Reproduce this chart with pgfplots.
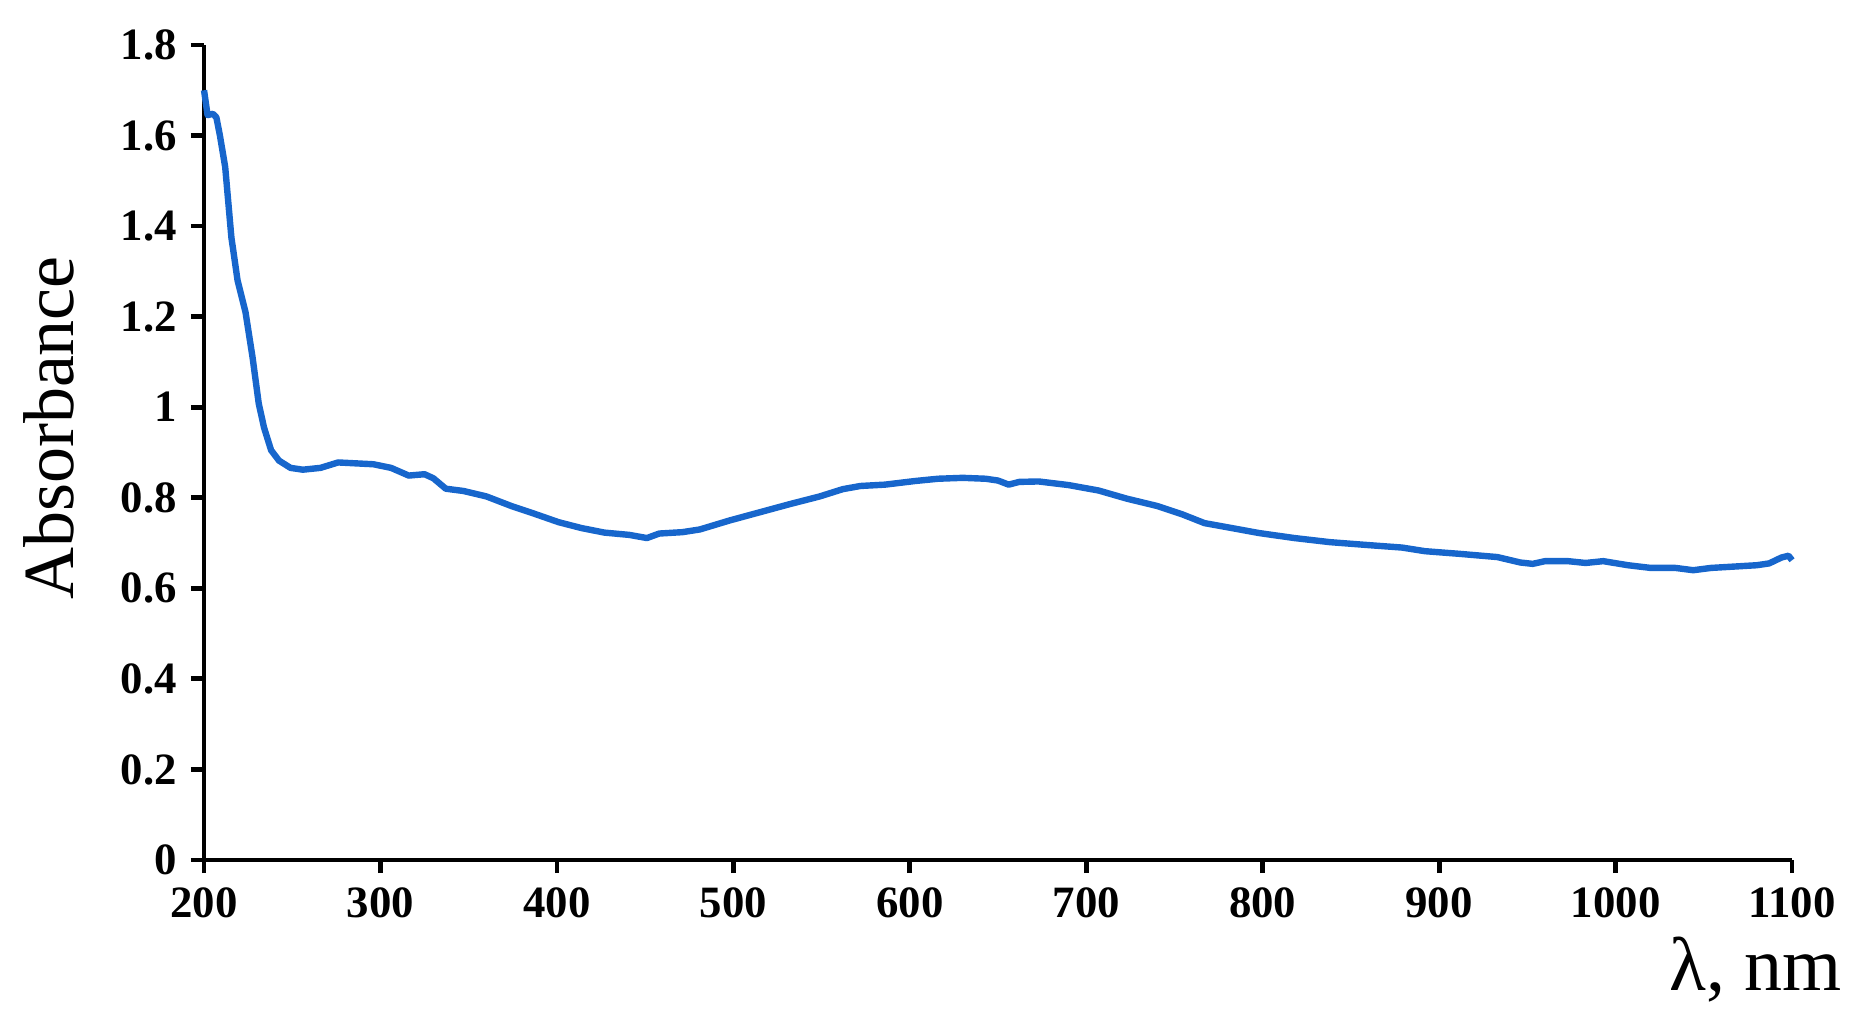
\documentclass[border=0pt]{standalone}
\usepackage{fontspec}
\setmainfont{Liberation Serif}
\usepackage{pgfplots}
\pgfplotsset{compat=1.18}
\definecolor{curve}{RGB}{23,102,204}
\begin{document}
\begin{tikzpicture}
\begin{axis}[
  scale only axis,
  width=397pt, height=203.75pt,
  xmin=200, xmax=1100, ymin=0, ymax=1.8,
  axis lines*=left,
  axis line style={line width=1.2pt},
  tick style={line width=1.2pt, black},
  major tick length=3.3pt,
  tick align=outside,
  xtick={200,300,...,1100},
  ytick={0,0.2,...,1.8},
  /pgf/number format/assume math mode=true,
  /pgf/number format/1000 sep={},
  ticklabel style={font=\fontsize{11.2}{13}\selectfont\bfseries},
  yticklabel style={/pgf/number format/fixed},
  ylabel={Absorbance},
  ylabel style={font=\fontsize{18}{20}\selectfont, at={(axis description cs:-0.098,0.53)}, anchor=center},
  xlabel={λ, nm},
  xlabel style={font=\fontsize{19}{21}\selectfont, at={(axis description cs:1.04,-0.135)}, anchor=east},
  clip=false,
]
\addplot[curve, line width=1.6pt, line join=round] coordinates {
(200,1.70) (202,1.645) (205,1.648) (207,1.64) (209,1.60) (212,1.53)
(215.5,1.375) (219,1.28) (223.5,1.21) (227.5,1.11) (231,1.008) (234,0.955)
(238,0.905) (242.5,0.882) (249,0.866) (256,0.862) (266,0.866) (276,0.878)
(286,0.876) (296,0.874) (306,0.866) (316,0.849) (325,0.852) (330,0.843)
(337,0.820) (347,0.815) (360,0.803) (374,0.782) (387,0.765) (401,0.746)
(414,0.733) (427,0.723) (441,0.718) (451,0.711) (458,0.721) (471,0.724)
(481,0.730) (498,0.750) (515,0.768) (532,0.786) (549,0.803) (562,0.819)
(572,0.826) (586,0.829) (603,0.837) (616,0.842) (630,0.844) (643,0.842)
(650,0.838) (656,0.829) (662,0.835) (673,0.836) (690,0.828) (707,0.816)
(723,0.798) (740,0.782) (754,0.764) (767,0.744) (784,0.732) (798,0.722)
(818,0.711) (838,0.702) (858,0.696) (879,0.690) (892,0.682) (912,0.676)
(933,0.669) (946,0.657) (953,0.654) (960,0.660) (973,0.660) (983,0.656)
(993,0.660) (1007,0.651) (1020,0.645) (1034,0.645) (1044,0.640) (1054,0.645)
(1067,0.648) (1080,0.651) (1087,0.655) (1094,0.668) (1098,0.672) (1100,0.662)
};
\coordinate (bbl) at (axis description cs:-0.1285,-0.2037);
\coordinate (btr) at (axis description cs:1.0447,1.0552);
\end{axis}
\path (bbl) rectangle (btr);
\end{tikzpicture}
\end{document}
